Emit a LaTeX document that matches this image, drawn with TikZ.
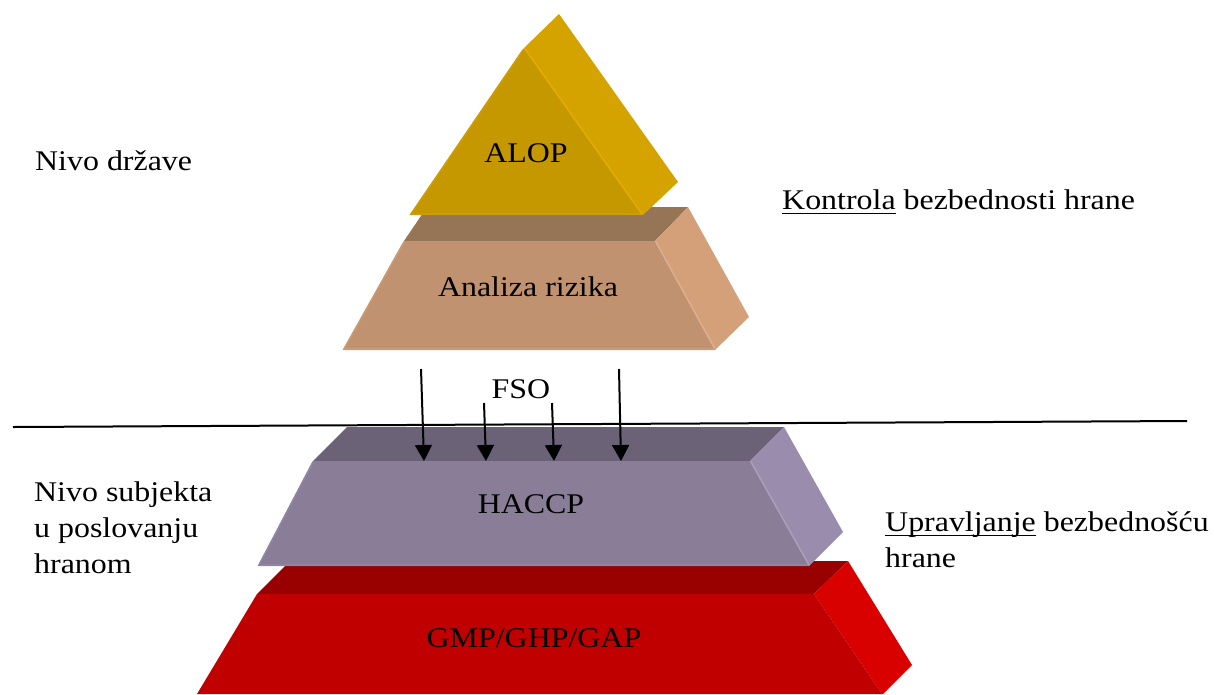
\documentclass[tikz,border=0pt]{standalone}
\usepackage{fontspec}
\setmainfont{Liberation Serif}[FakeStretch=1.12]
\usetikzlibrary{arrows.meta}

% face colours of the blocks
\definecolor{goldfront}{RGB}{198,152,0}
\definecolor{goldside}{RGB}{212,163,0}
\definecolor{goldedge}{RGB}{226,172,0}
\definecolor{goldrim}{RGB}{206,158,0}
\definecolor{tanfront}{RGB}{193,146,112}
\definecolor{tantop}{RGB}{150,116,86}
\definecolor{tanside}{RGB}{212,160,122}
\definecolor{tanrim}{RGB}{202,153,117}
\definecolor{lilfront}{RGB}{137,125,152}
\definecolor{liltop}{RGB}{107,98,120}
\definecolor{lilside}{RGB}{154,140,173}
\definecolor{lilrim}{RGB}{146,133,163}
\definecolor{redfront}{RGB}{192,0,0}
\definecolor{redtop}{RGB}{153,0,0}
\definecolor{redside}{RGB}{217,0,0}

% underline at a fixed depth below the baseline
\newsavebox\ulbox
\newcommand\ulword[1]{\sbox\ulbox{#1}\rlap{\rule[-5pt]{\wd\ulbox}{1.5pt}}\usebox\ulbox}

\begin{document}
\begin{tikzpicture}[x=1pt,y=-1pt,
    txt/.style={inner sep=0pt, font=\fontsize{28.5}{36}\selectfont},
    rim/.style={line width=1.6pt, line cap=round},
    arr/.style={line width=2pt, -{Triangle[width=17pt,length=16pt]}}]
\useasboundingbox (0,0) rectangle (1214,694);

% ---- Analiza rizika block ----
\fill[tantop]   (404,241) -- (427,207) -- (688,207) -- (655,241) -- cycle;
\fill[tanside]  (655,241) -- (688,207) -- (749,317) -- (715,350) -- cycle;
\fill[tanfront] (404,241) -- (655,241) -- (715,350) -- (343,350) -- cycle;
\draw[rim, tanrim] (404,242) -- (344,349) -- (714,349);
\draw[rim, tanside!85!white] (656,242) -- (715,349);

% ---- ALOP prism ----
\fill[goldside]  (524,48) -- (559,14) -- (678,182) -- (643,215) -- cycle;
\fill[goldfront] (524,48) -- (410,215) -- (643,215) -- cycle;
\draw[rim, goldrim] (523,50) -- (411,214) -- (641,214);
\draw[rim, goldedge] (525,49) -- (642,214);

% ---- GMP/GHP/GAP block ----
\fill[redtop]   (257,594) -- (290,561) -- (848,561) -- (814,594) -- cycle;
\fill[redside]  (814,594) -- (848,561) -- (912,665) -- (883,694) -- (882,694) -- cycle;
\fill[redfront] (257,594) -- (814,594) -- (882,694) -- (197,694) -- cycle;

% ---- HACCP block ----
\fill[liltop]   (313,461) -- (347,427) -- (784,427) -- (750,461) -- cycle;
\fill[lilside]  (750,461) -- (784,427) -- (843,532) -- (809,566) -- cycle;
\fill[lilfront] (313,461) -- (750,461) -- (809,566) -- (258,566) -- cycle;
\draw[rim, lilrim] (313,462) -- (259,565) -- (808,565);
\draw[rim, lilside!85!white] (751,462) -- (809,565);

% ---- dividing line between the two levels ----
\coordinate (divL) at (13,427);
\coordinate (divR) at (1187,421);
\draw[line width=2pt] (divL) -- (divR);

% ---- FSO arrows ----
\coordinate (a1s) at (421,369); \coordinate (a1e) at (424,461);
\coordinate (a2s) at (484,403); \coordinate (a2e) at (486,461);
\coordinate (a3s) at (552,403); \coordinate (a3e) at (554,461);
\coordinate (a4s) at (619,369); \coordinate (a4e) at (621,461);
\draw[arr] (a1s) -- (a1e);
\draw[arr] (a2s) -- (a2e);
\draw[arr] (a3s) -- (a3e);
\draw[arr] (a4s) -- (a4e);

% ---- labels ----
\node[txt, anchor=base] (alop)    at (526,162) {ALOP};
\node[txt, anchor=base] (analiza) at (528,296) {Analiza rizika};
\node[txt, anchor=base] (fso)     at (521,398) {FSO};
\node[txt, anchor=base] (haccp)   at (531,513) {HACCP};
\node[txt, anchor=base] (gmp)     at (534,647) {GMP/GHP/GAP};

\node[txt, anchor=base west] (drzava) at (35,170) {Nivo države};
\node[txt, anchor=base west] (kontrola) at (782,209) {\ulword{Kontrola} bezbednosti hrane};
% multi-line labels: the base anchor sits on the last line
\node[txt, anchor=base west, align=left] (subjekt) at (34,573) {Nivo subjekta\\u poslovanju\\hranom};
\node[txt, anchor=base west, align=left] (upravljanje) at (885,567) {\ulword{Upravljanje} bezbednošću\\hrane};
\end{tikzpicture}
\end{document}
